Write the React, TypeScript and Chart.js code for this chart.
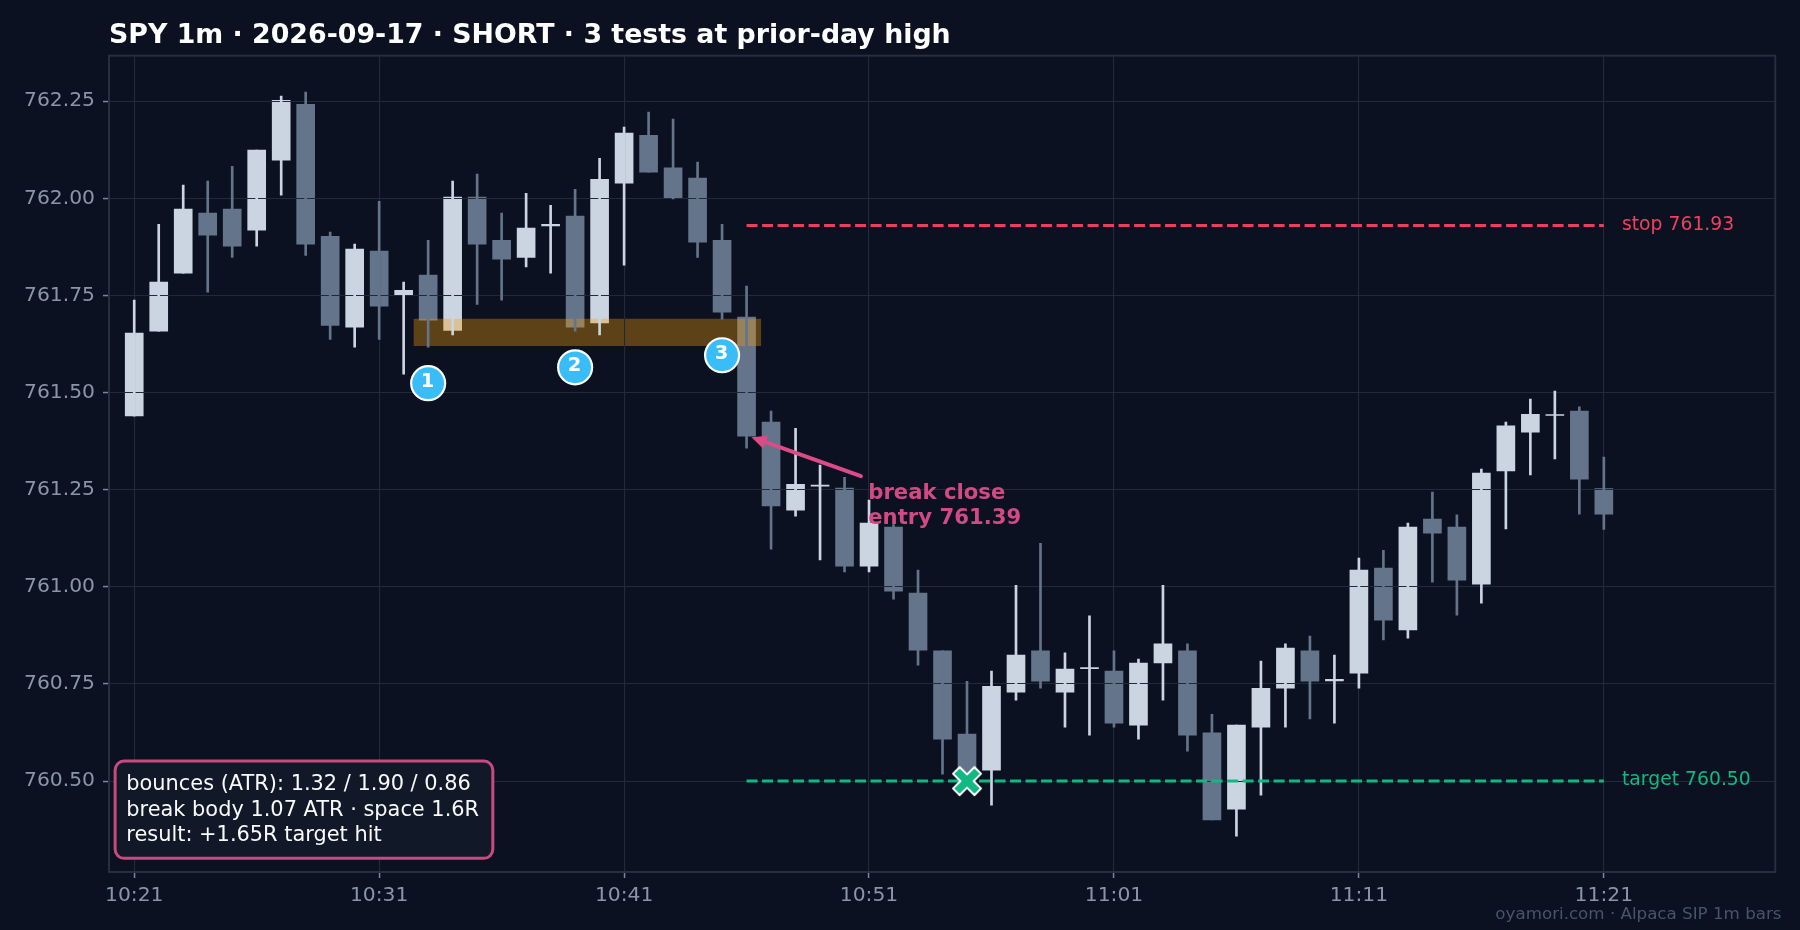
import React, { useEffect, useRef } from "react";
import { Chart, Scale, registerables } from "chart.js";

Chart.register(...registerables);

const titleText = "SPY 1m · 2026-09-17 · SHORT · 3 tests at prior-day high";
const xTickValues = [0, 10, 20, 30, 40, 50, 60];
const xTickLabels = ["10:21", "10:31", "10:41", "10:51", "11:01", "11:11", "11:21"];
const yTickValues = [760.5, 760.75, 761.0, 761.25, 761.5, 761.75, 762.0, 762.25];

const opens = [
  761.44, 761.658, 761.807, 761.962, 761.972, 761.918, 762.098, 762.242, 761.902, 761.668,
  761.864, 761.75, 761.802, 761.66, 762.003, 761.892, 761.848, 761.929, 761.954, 761.679,
  762.039, 762.162, 762.078, 762.052, 761.892, 761.694, 761.424, 761.197, 761.259, 761.254,
  761.053, 761.154, 760.984, 760.835, 760.621, 760.528, 760.729, 760.835, 760.729, 760.789,
  760.783, 760.644, 760.804, 760.835, 760.624, 760.428, 760.639, 760.739, 760.835, 760.758,
  760.778, 761.048, 760.889, 761.174, 761.154, 761.007, 761.298, 761.398, 761.441, 761.452,
  761.253,
];
const closes = [
  761.653, 761.784, 761.972, 761.905, 761.877, 762.124, 762.252, 761.882, 761.673, 761.869,
  761.722, 761.763, 761.686, 762.003, 761.882, 761.843, 761.923, 761.933, 761.668, 762.049,
  762.168, 762.067, 762.0, 761.887, 761.707, 761.388, 761.208, 761.264, 761.262, 761.053,
  761.164, 760.989, 760.837, 760.608, 760.505, 760.744, 760.824, 760.757, 760.788, 760.792,
  760.649, 760.804, 760.853, 760.618, 760.4, 760.644, 760.739, 760.842, 760.757, 760.762,
  761.043, 760.914, 761.154, 761.138, 761.017, 761.293, 761.414, 761.444, 761.443, 761.277,
  761.187,
];
const highs = [
  761.738, 761.933, 762.034, 762.044, 762.082, 762.124, 762.263, 762.273, 761.913, 761.882,
  761.992, 761.784, 761.892, 762.044, 762.062, 761.962, 762.013, 761.982, 762.023, 762.103,
  762.183, 762.222, 762.204, 762.093, 761.933, 761.774, 761.452, 761.408, 761.313, 761.282,
  761.223, 761.16, 761.043, 760.835, 760.757, 760.783, 761.004, 761.112, 760.83, 760.925,
  760.835, 760.814, 761.004, 760.853, 760.672, 760.644, 760.809, 760.853, 760.873, 760.824,
  761.074, 761.094, 761.164, 761.244, 761.185, 761.303, 761.424, 761.483, 761.504, 761.463,
  761.334,
];
const lows = [
  761.439, 761.658, 761.807, 761.758, 761.848, 761.877, 762.008, 761.853, 761.637, 761.617,
  761.637, 761.547, 761.617, 761.648, 761.727, 761.738, 761.823, 761.807, 761.658, 761.648,
  761.828, 762.067, 761.998, 761.848, 761.689, 761.357, 761.097, 761.182, 761.069, 761.038,
  761.038, 760.968, 760.798, 760.518, 760.5, 760.438, 760.708, 760.739, 760.639, 760.618,
  760.639, 760.608, 760.708, 760.577, 760.4, 760.358, 760.464, 760.639, 760.66, 760.649,
  760.739, 760.863, 760.868, 761.012, 760.927, 760.958, 761.149, 761.288, 761.329, 761.187,
  761.148,
];

const bandStart = 11.4;
const bandEnd = 25.6;
const bandHigh = 761.69;
const bandLow = 761.62;
const levelStart = 25;
const levelEnd = 60;
const stopPrice = 761.93;
const targetPrice = 760.5;
const stopText = "stop 761.93";
const targetText = "target 760.50";
const testIndexes = [12, 18, 24];
const testPrices = [761.524, 761.565, 761.596];
const testLabels = ["1", "2", "3"];
const exitIndex = 34;
const exitPrice = 760.5;
const arrowTail = { x: 29.67, y: 761.285 };
const arrowTip = { x: 25.2, y: 761.385 };
const annotationAnchor = { x: 30.0, y: 761.25 };
const annotationLines = ["break close", "entry 761.39"];
const boxLines = [
  "bounces (ATR): 1.32 / 1.90 / 0.86",
  "break body 1.07 ATR · space 1.6R",
  "result: +1.65R target hit",
];
const watermark = "oyamori.com · Alpaca SIP 1m bars";

const BG = "#0b1120";
const UP = "#cbd5e1";
const DOWN = "#64748b";
const GRID = "#222a3a";
const PINK = "#db4b88";
const FONT = "'DejaVu Sans'";

function makeExitMarker(): HTMLCanvasElement {
  const c = document.createElement("canvas");
  c.width = 34;
  c.height = 34;
  const g = c.getContext("2d")!;
  g.translate(17, 17);
  const a = 14;
  const b = 6.6;
  g.beginPath();
  const pts = [
    [-a + b, -a], [0, -b], [a - b, -a], [a, -a + b], [b, 0], [a, a - b],
    [a - b, a], [0, b], [-a + b, a], [-a, a - b], [-b, 0], [-a, -a + b],
  ];
  pts.forEach(([x, y], i) => (i ? g.lineTo(x, y) : g.moveTo(x, y)));
  g.closePath();
  g.fillStyle = "#10b981";
  g.strokeStyle = "#ffffff";
  g.lineWidth = 2;
  g.lineJoin = "round";
  g.fill();
  g.stroke();
  return c;
}

const gridBeforeWicks = {
  id: "gridBeforeWicks",
  beforeDraw(chart: any) {
    for (const id of ["x", "y"]) chart.scales[id].drawGrid = () => {};
  },
  beforeDatasetDraw(chart: any, args: any) {
    if (chart.data.datasets[args.index].label !== "wicks") return;
    for (const id of ["x", "y"]) {
      (Scale.prototype as any).drawGrid.call(chart.scales[id], chart.chartArea);
    }
  },
};

const overlays = {
  id: "overlays",
  afterDatasetsDraw(chart: any) {
    const { ctx, scales, chartArea } = chart;
    const X = (v: number) => scales.x.getPixelForValue(v);
    const Y = (v: number) => scales.y.getPixelForValue(v);
    ctx.save();

    // arrow
    const tx = X(arrowTail.x), ty = Y(arrowTail.y), hx = X(arrowTip.x), hy = Y(arrowTip.y);
    const ang = Math.atan2(hy - ty, hx - tx);
    const back = 15;
    ctx.strokeStyle = PINK;
    ctx.fillStyle = PINK;
    ctx.lineWidth = 4;
    ctx.lineCap = "round";
    ctx.beginPath();
    ctx.moveTo(tx, ty);
    ctx.lineTo(hx - Math.cos(ang) * back, hy - Math.sin(ang) * back);
    ctx.stroke();
    ctx.beginPath();
    ctx.moveTo(hx, hy);
    ctx.lineTo(hx - Math.cos(ang) * back - Math.sin(ang) * 7, hy - Math.sin(ang) * back + Math.cos(ang) * 7);
    ctx.lineTo(hx - Math.cos(ang) * back + Math.sin(ang) * 7, hy - Math.sin(ang) * back - Math.cos(ang) * 7);
    ctx.closePath();
    ctx.fill();

    // annotation text
    ctx.textBaseline = "middle";
    ctx.textAlign = "left";
    ctx.font = `bold 21.2px ${FONT}`;
    ctx.fillStyle = "#d04a84";
    annotationLines.forEach((t, i) => ctx.fillText(t, X(annotationAnchor.x) - 0.8, Y(annotationAnchor.y) + 3.8 + i * 25.3));

    // level labels
    ctx.font = `18.8px ${FONT}`;
    ctx.fillStyle = "#f43f5e";
    ctx.fillText(stopText, X(60.74), Y(stopPrice));
    ctx.fillStyle = "#10b981";
    ctx.fillText(targetText, X(60.74), Y(targetPrice) - 0.5);

    // test numbers
    const meta = chart.getDatasetMeta(chart.data.datasets.findIndex((d: any) => d.label === "tests"));
    ctx.font = `bold 19.5px ${FONT}`;
    ctx.textAlign = "center";
    ctx.fillStyle = "#ffffff";
    meta.data.forEach((pt: any, i: number) => ctx.fillText(testLabels[i], pt.x - 0.5, pt.y - 1));

    // info box
    const bx = X(-0.78);
    const by = Y(760.5515);
    ctx.beginPath();
    ctx.roundRect(bx, by, 377.7, 97.3, 9);
    ctx.fillStyle = "#111827";
    ctx.fill();
    ctx.lineWidth = 3;
    ctx.strokeStyle = "#c84b80";
    ctx.stroke();
    ctx.textAlign = "left";
    ctx.fillStyle = "#f8fafc";
    ctx.font = `20.9px ${FONT}`;
    boxLines.forEach((t, i) => ctx.fillText(t, bx + 11.2, by + 24 + i * 25.3));

    // spines
    ctx.strokeStyle = "#262e3f";
    ctx.lineWidth = 2;
    ctx.strokeRect(chartArea.left, chartArea.top, chartArea.right - chartArea.left, chartArea.bottom - chartArea.top);

    // watermark
    ctx.textAlign = "right";
    ctx.fillStyle = "#475569";
    ctx.font = `16.7px ${FONT}`;
    ctx.fillText(watermark, 1781.5, 915);
    ctx.restore();
  },
};

export default function App() {
  const ref = useRef<HTMLCanvasElement>(null);
  useEffect(() => {
    document.body.style.margin = "0";
    document.body.style.background = BG;
    const idx = opens.map((_, i) => i);
    const colors = idx.map((i) => (closes[i] >= opens[i] ? UP : DOWN));
    const chart = new Chart(ref.current!, {
      type: "bar",
      data: {
        datasets: [
          {
            label: "bodies",
            order: 6,
            grouped: false,
            barThickness: 18,
            backgroundColor: colors,
            borderWidth: 0,
            data: idx.map((i) => ({ x: i, y: [opens[i], closes[i]] })),
          },
          {
            type: "line",
            label: "band",
            order: 5,
            data: [
              { x: bandStart, y: bandHigh },
              { x: bandEnd, y: bandHigh },
            ],
            borderWidth: 0,
            pointRadius: 0,
            fill: { value: bandLow },
            backgroundColor: "rgba(245,158,11,0.35)",
          },
          {
            label: "wicks",
            order: 4,
            grouped: false,
            barThickness: 2,
            backgroundColor: colors,
            borderWidth: 0,
            data: idx.map((i) => ({ x: i, y: [lows[i], highs[i]] })),
          },
          {
            type: "line",
            label: "stop",
            order: 3,
            data: [
              { x: levelStart, y: stopPrice },
              { x: levelEnd, y: stopPrice },
            ],
            borderColor: "#ec3f5f",
            borderWidth: 3,
            borderDash: [11, 4.5],
            pointRadius: 0,
          },
          {
            type: "line",
            label: "target",
            order: 3,
            data: [
              { x: levelStart, y: targetPrice },
              { x: levelEnd, y: targetPrice },
            ],
            borderColor: "#10b981",
            borderWidth: 3,
            borderDash: [11, 4.5],
            pointRadius: 0,
          },
          {
            type: "line",
            label: "exit",
            order: 2,
            showLine: false,
            data: [{ x: exitIndex, y: exitPrice }],
            pointStyle: makeExitMarker(),
            pointRadius: 15,
          },
          {
            type: "line",
            label: "tests",
            order: 1,
            showLine: false,
            data: testIndexes.map((x, i) => ({ x, y: testPrices[i] })),
            pointRadius: 17,
            pointBackgroundColor: "#38bdf8",
            pointBorderColor: "#ffffff",
            pointBorderWidth: 2.2,
          },
        ] as any,
      },
      options: {
        responsive: false,
        animation: false,
        devicePixelRatio: 1,
        events: [],
        layout: { padding: { left: 0, right: 24.7, top: 0, bottom: 0 } },
        plugins: {
          legend: { display: false },
          tooltip: { enabled: false },
          title: {
            display: true,
            text: titleText,
            align: "start",
            fullSize: false,
            color: "#ffffff",
            font: { family: FONT, size: 26.8, weight: "bold", lineHeight: 1.2 },
            padding: { top: 19.5, bottom: 4 },
          },
        },
        scales: {
          x: {
            type: "linear",
            min: -1.03,
            max: 67,
            offset: false,
            afterFit: (s: any) => {
              s.height = 58;
            },
            afterBuildTicks: (s: any) => {
              s.ticks = xTickValues.map((value) => ({ value }));
            },
            border: { display: false },
            grid: { offset: false, color: GRID, lineWidth: 1.1, tickColor: "#7c8698", tickLength: 6, tickWidth: 1.5 },
            ticks: {
              autoSkip: false,
              maxRotation: 0,
              color: "#8b95a8",
              font: { family: FONT, size: 20.3 },
              padding: 6,
              callback: (v: any) => xTickLabels[xTickValues.indexOf(Number(v))],
            },
          },
          y: {
            type: "linear",
            min: 760.266,
            max: 762.367,
            afterFit: (s: any) => {
              s.width = 109;
            },
            afterBuildTicks: (s: any) => {
              s.ticks = yTickValues.map((value) => ({ value }));
            },
            border: { display: false },
            grid: { offset: false, color: GRID, lineWidth: 1.1, tickColor: "#7c8698", tickLength: 6, tickWidth: 1.5 },
            ticks: {
              autoSkip: false,
              color: "#8b95a8",
              font: { family: FONT, size: 20.3 },
              padding: 8,
              callback: (v: any) => Number(v).toFixed(2),
            },
          },
        },
      },
      plugins: [gridBeforeWicks, overlays],
    } as any);
    return () => chart.destroy();
  }, []);
  return (
    <div style={{ width: 1800, height: 930, background: BG }}>
      <canvas ref={ref} width={1800} height={930} style={{ display: "block", width: 1800, height: 930 }} />
    </div>
  );
}
